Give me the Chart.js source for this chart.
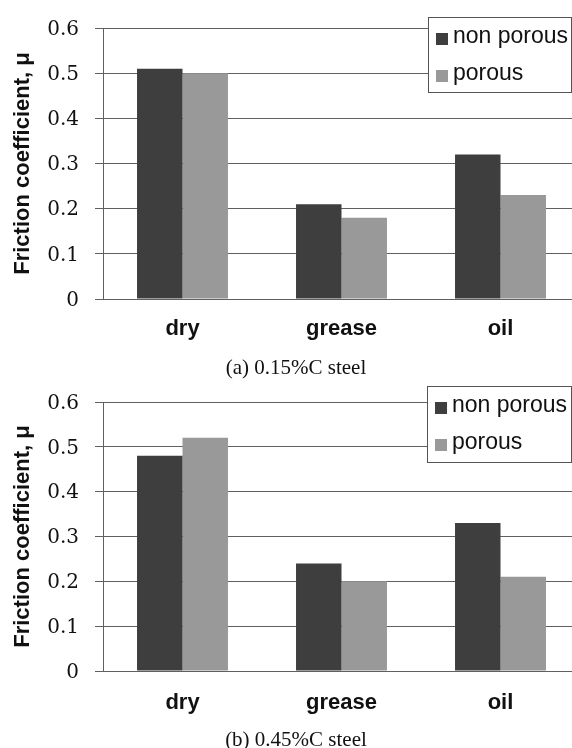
<!DOCTYPE html>
<html><head><meta charset="utf-8">
<script src="https://cdn.jsdelivr.net/npm/chart.js@4"></script>
<style>
html,body{margin:0;padding:0;background:#fff;overflow:hidden;width:572px;height:748px;}
.wrap{position:absolute;left:0;}
canvas{display:block;}
.cap{position:absolute;left:0;width:592px;text-align:center;font:21px "Liberation Serif",serif;line-height:24px;color:#111;}
</style></head><body>
<div class="wrap" style="top:0"><canvas id="c1" width="580" height="374"></canvas></div>
<div class="wrap" style="top:374px"><canvas id="c2" width="580" height="374"></canvas></div>
<div class="cap" id="cap1" style="top:355px"></div>
<div class="cap" id="cap2" style="top:727px"></div>
<script>
const categories = ['dry', 'grease', 'oil'];
const seriesNames = ['non porous', 'porous'];
const nonPorousA = [0.51, 0.21, 0.32];
const porousA = [0.50, 0.18, 0.23];
const nonPorousB = [0.48, 0.24, 0.33];
const porousB = [0.52, 0.20, 0.21];
const yTickLabels = ['0', '0.1', '0.2', '0.3', '0.4', '0.5', '0.6'];
const yTitle = 'Friction coefficient, \u03bc';
const captions = ['(a) 0.15%C steel', '(b) 0.45%C steel'];

document.getElementById('cap1').textContent = captions[0];
document.getElementById('cap2').textContent = captions[1];

const DARK = '#3e3e3e', LIGHT = '#999999', GRID = '#606060';

const boxLegend = {
  id: 'boxLegend',
  afterDraw(chart, args, o) {
    const ctx = chart.ctx;
    ctx.save();
    ctx.fillStyle = '#fff';
    ctx.fillRect(o.x, o.y, o.w, o.h);
    ctx.strokeStyle = o.border; ctx.lineWidth = 1;
    ctx.strokeRect(o.x + 0.5, o.y + 0.5, o.w, o.h);
    chart.data.datasets.forEach((ds, i) => {
      const cy = o.y + o.rowY[i];
      ctx.fillStyle = ds.backgroundColor;
      ctx.fillRect(o.x + o.markX, cy - 4, o.mark, o.mark);
      ctx.fillStyle = o.color;
      ctx.font = o.font;
      ctx.textBaseline = 'middle';
      ctx.textAlign = 'left';
      ctx.fillText(ds.label, o.x + o.textX, cy);
    });
    ctx.restore();
  }
};

function makeChart(id, np, p, areaTop, areaBottom, xPad, box) {
  return new Chart(document.getElementById(id), {
    type: 'bar',
    data: {
      labels: categories,
      datasets: [
        { label: seriesNames[0], data: np, backgroundColor: DARK, borderWidth: 0 },
        { label: seriesNames[1], data: p, backgroundColor: LIGHT, borderWidth: 0 }
      ]
    },
    options: {
      responsive: false,
      animation: false,
      events: [],
      layout: { padding: { top: areaTop, left: 0, right: 0, bottom: 0 } },
      datasets: { bar: { barPercentage: 1, categoryPercentage: 0.572 } },
      plugins: {
        legend: { display: false },
        tooltip: { enabled: false },
        boxLegend: Object.assign({
          border: '#555', color: '#111',
          font: '23px "Liberation Sans", Arial, sans-serif',
          markX: 8, mark: 12, textX: 25, rowY: [20, 57]
        }, box)
      },
      scales: {
        x: {
          afterFit: s => { s.height = 374 - areaBottom; },
          grid: { display: false, drawTicks: false },
          border: { display: true, color: GRID, width: 1 },
          ticks: {
            padding: xPad, color: '#111',
            font: { family: '"Liberation Sans", Arial, sans-serif', size: 22, weight: 'bold' }
          }
        },
        y: {
          min: 0, max: 0.6,
          afterFit: s => { s.width = 103; },
          grid: { color: GRID, lineWidth: 1, drawTicks: true, tickLength: 8, tickColor: GRID },
          border: { display: true, color: GRID, width: 1 },
          ticks: {
            stepSize: 0.1, padding: 16, color: '#111', labelOffset: 1.5,
            font: { family: '"DejaVu Serif", serif', size: 20 },
            callback: (v, i) => yTickLabels[i]
          },
          title: {
            display: true, text: yTitle, color: '#111',
            padding: { top: 10, bottom: 0 },
            font: { family: '"Liberation Sans", Arial, sans-serif', size: 22, weight: 'bold' }
          }
        }
      }
    },
    plugins: [boxLegend]
  });
}

makeChart('c1', nonPorousA, porousA, 21, 299, 17, { x: 428, y: 17, w: 143, h: 75 });
makeChart('c2', nonPorousB, porousB, 16, 297, 19, { x: 427, y: 12, w: 144, h: 76 });
</script>
</body></html>
